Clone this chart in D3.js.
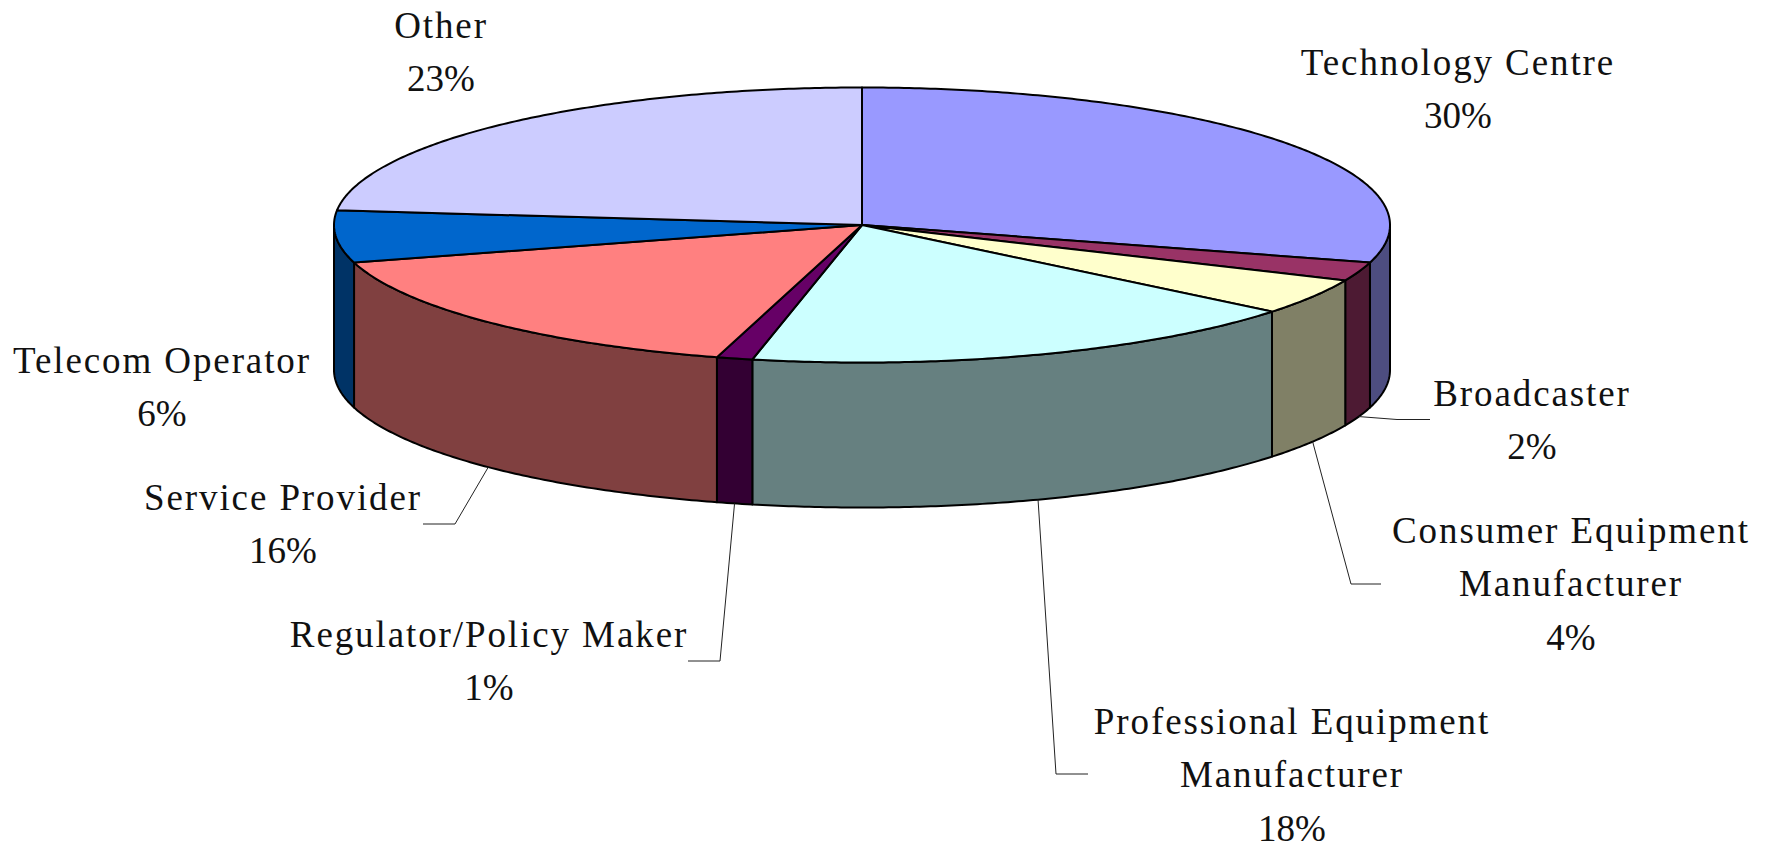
<!DOCTYPE html>
<html><head><meta charset="utf-8">
<script src="https://cdn.jsdelivr.net/npm/d3@7/dist/d3.min.js"></script>
<style>html,body{margin:0;padding:0;background:#fff;overflow:hidden}svg{display:block}
text{font-family:"Liberation Serif",serif;font-size:37px;letter-spacing:1.9px;fill:#111;text-anchor:middle}
tspan.pct{letter-spacing:0}</style>
</head><body><svg id="c" width="1774" height="846"></svg>
<script>
const categories=["Technology Centre","Broadcaster","Consumer Equipment Manufacturer","Professional Equipment Manufacturer","Regulator/Policy Maker","Service Provider","Telecom Operator","Other"];
const shares=[29.4,2.2,4.25,17.48,1.1,16.17,6.1,23.3];
const percentLabels=["30%","2%","4%","18%","1%","16%","6%","23%"];
const labelLines=[["Technology Centre"],["Broadcaster"],["Consumer Equipment","Manufacturer"],["Professional Equipment","Manufacturer"],["Regulator/Policy Maker"],["Service Provider"],["Telecom Operator"],["Other"]];
const topColors=["#9999ff","#993366","#ffffcc","#ccffff","#660066","#ff8080","#0066cc","#ccccff"];
const wallColors=["#4d4d80","#4d1a33","#808066","#668080","#330033","#804040","#003366","#666680"];
const labelAnchors=[[1458,75],[1532,406],[1571,543],[1292,734],[489,647],[283,510],[162,373],[441,38]];
const leaderPaths=[null,[[1397,419.5],[1430,419.5]],[[1351,584],[1381,584]],[[1056,774],[1088,774]],[[720,661],[688,661]],[[455,524],[423,524]],null,null];

const cx=862,cy=225,rx=528,ry=137.5,depth=145,lineGap=53.4;
const X=d3.scaleLinear().domain([-1,1]).range([cx-rx,cx+rx]);
const Y=d3.scaleLinear().domain([-1,1]).range([cy-ry,cy+ry]);
const px=a=>X(Math.sin(a)),py=a=>Y(-Math.cos(a));
const arcs=d3.pie().sort(null).startAngle(0).endAngle(2*Math.PI)(shares);
const svg=d3.select("#c");
const line=d3.line();
const samples=(a,b)=>{const n=Math.max(2,Math.ceil((b-a)/0.01));return d3.range(n+1).map(i=>a+(b-a)*i/n);};

// walls: only the part of each slice on the front half of the disc
const H=Math.PI/2;
svg.append("g").selectAll("path").data(arcs.filter(d=>d.endAngle>H&&d.startAngle<3*H)).join("path")
  .attr("d",d=>{
    const s=samples(Math.max(d.startAngle,H),Math.min(d.endAngle,3*H));
    const pts=s.map(a=>[px(a),py(a)]).concat(s.slice().reverse().map(a=>[px(a),py(a)+depth]));
    return line(pts)+"Z";
  })
  .attr("fill",d=>wallColors[d.index]).attr("stroke","#000").attr("stroke-width",2).attr("stroke-linejoin","round");

// top surface
svg.append("g").selectAll("path").data(arcs).join("path")
  .attr("d",d=>{
    const pts=[[X(0),Y(0)]].concat(samples(d.startAngle,d.endAngle).map(a=>[px(a),py(a)]));
    return line(pts)+"Z";
  })
  .attr("fill",d=>topColors[d.index]).attr("stroke","#000").attr("stroke-width",2).attr("stroke-linejoin","round");

// leader lines start at the slice's mid angle on the lower rim
svg.append("g").selectAll("path").data(arcs.filter(d=>leaderPaths[d.index])).join("path")
  .attr("d",d=>{
    const m=(d.startAngle+d.endAngle)/2;
    return line([[px(m),py(m)+depth],...leaderPaths[d.index]]);
  })
  .attr("fill","none").attr("stroke","#222").attr("stroke-width",1);

// labels
const lab=svg.append("g").selectAll("text").data(arcs).join("text")
  .attr("x",d=>labelAnchors[d.index][0]).attr("y",d=>labelAnchors[d.index][1]);
lab.each(function(d){
  const t=d3.select(this),ls=labelLines[d.index];
  ls.forEach((s,i)=>t.append("tspan").attr("x",labelAnchors[d.index][0]).attr("y",labelAnchors[d.index][1]+i*lineGap).text(s));
  t.append("tspan").attr("class","pct").attr("x",labelAnchors[d.index][0]).attr("y",labelAnchors[d.index][1]+ls.length*lineGap).text(percentLabels[d.index]);
});
</script></body></html>
